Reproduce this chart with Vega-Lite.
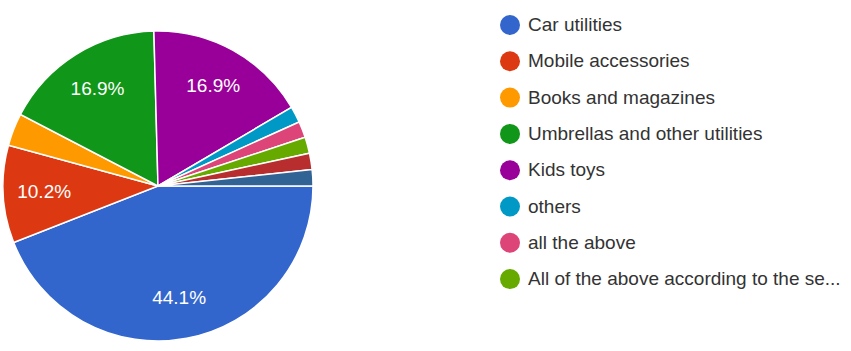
{
  "$schema": "https://vega.github.io/schema/vega-lite/v6.json",
  "width": 310,
  "height": 336,
  "padding": {"top": 15, "left": 0, "right": 0, "bottom": 0},
  "config": {"view": {"stroke": null}},
  "data": {
    "values": [
      {"idx": 1, "category": "Car utilities", "value": 26, "label": "44.1%"},
      {"idx": 2, "category": "Mobile accessories", "value": 6, "label": "10.2%"},
      {"idx": 3, "category": "Books and magazines", "value": 2, "label": ""},
      {"idx": 4, "category": "Umbrellas and other utilities", "value": 10, "label": "16.9%"},
      {"idx": 5, "category": "Kids toys", "value": 10, "label": "16.9%"},
      {"idx": 6, "category": "others", "value": 1, "label": ""},
      {"idx": 7, "category": "all the above", "value": 1, "label": ""},
      {"idx": 8, "category": "All of the above according to the se...", "value": 1, "label": ""},
      {"idx": 9, "category": "Option 9", "value": 1, "label": ""},
      {"idx": 10, "category": "Option 10", "value": 1, "label": ""}
    ]
  },
  "layer": [
    {
      "mark": {"type": "arc", "radius": 155, "stroke": "white", "strokeWidth": 1.5},
      "encoding": {
        "theta": {"field": "value", "type": "quantitative", "stack": true, "scale": {"range": [1.5708, 7.854]}},
        "order": {"field": "idx", "type": "quantitative"},
        "color": {
          "field": "category",
          "type": "nominal",
          "scale": {
            "domain": ["Car utilities", "Mobile accessories", "Books and magazines", "Umbrellas and other utilities", "Kids toys", "others", "all the above", "All of the above according to the se...", "Option 9", "Option 10"],
            "range": ["#3366cc", "#dc3912", "#ff9900", "#109618", "#990099", "#0099c6", "#dd4477", "#66aa00", "#b82e2e", "#316395"]
          },
          "legend": {
            "orient": "none",
            "legendX": 497,
            "legendY": -3,
            "title": null,
            "values": ["Car utilities", "Mobile accessories", "Books and magazines", "Umbrellas and other utilities", "Kids toys", "others", "all the above", "All of the above according to the se..."],
            "symbolType": "circle",
            "symbolSize": 400,
            "symbolStrokeWidth": 0,
            "labelFontSize": 19,
            "labelFont": "Liberation Sans",
            "labelColor": "#333333",
            "rowPadding": 16.3,
            "labelOffset": 8,
            "labelLimit": 400
          }
        }
      }
    },
    {
      "mark": {"type": "text", "radius": 114, "fill": "white", "fontSize": 19, "font": "Liberation Sans"},
      "encoding": {
        "theta": {"field": "value", "type": "quantitative", "stack": true},
        "order": {"field": "idx", "type": "quantitative"},
        "text": {"field": "label", "type": "nominal"}
      }
    }
  ]
}
